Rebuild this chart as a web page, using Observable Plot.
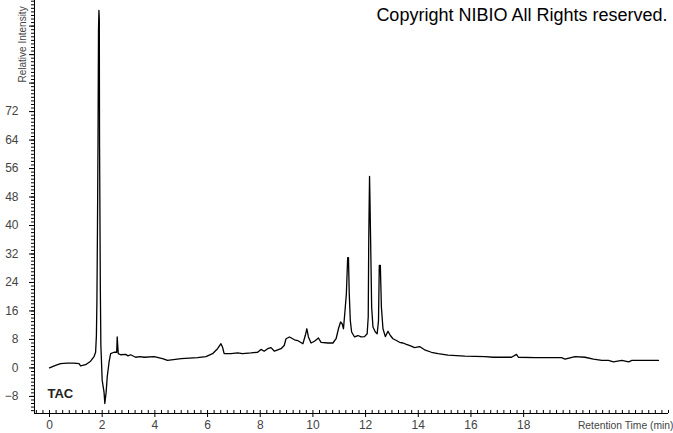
<!DOCTYPE html>
<html>
<head>
<meta charset="utf-8">
<script src="https://cdn.jsdelivr.net/npm/d3@7"></script>
<script src="https://cdn.jsdelivr.net/npm/@observablehq/plot@0.6"></script>
<style>
  html, body { margin: 0; padding: 0; background: #fff; }
  #chart { width: 673px; height: 433px; overflow: hidden; }
</style>
</head>
<body>
<div id="chart"></div>
<script>
// Retention time (min)
const times = [
  0, 0.23, 0.42, 0.67, 0.93, 1.12, 1.18, 1.37, 1.56, 1.69, 1.75, 1.78, 1.80, 1.82, 1.84, 1.86, 1.876, 1.89, 1.90, 1.93, 1.95,
  2.00, 2.07, 2.10, 2.15, 2.19, 2.26, 2.32, 2.45, 2.55, 2.57, 2.61, 2.70, 2.89, 2.98, 3.08, 3.27, 3.44, 3.59, 3.97,
  4.29, 4.48, 5.0, 5.62, 5.94, 6.19, 6.38, 6.51, 6.57, 6.63, 6.89, 7.14, 7.33, 7.65, 7.90, 8.03, 8.15, 8.28, 8.41,
  8.54, 8.79, 8.91, 8.98, 9.11, 9.30, 9.42, 9.62, 9.71, 9.77, 9.83, 9.93, 10.06, 10.21, 10.31, 10.57, 10.76, 10.88,
  10.97, 11.05, 11.11, 11.16, 11.22, 11.27, 11.32, 11.35, 11.38, 11.42, 11.47, 11.58, 11.71, 11.83, 11.96, 12.06,
  12.10, 12.12, 12.15, 12.16, 12.19, 12.23, 12.28, 12.37, 12.44, 12.49, 12.52, 12.56, 12.60, 12.66, 12.75, 12.85,
  12.94, 13.04, 13.17, 13.29, 13.42, 13.55, 13.71, 13.86, 14.05, 14.24, 14.50, 14.75, 15.13, 15.77, 16.53, 16.85,
  17.54, 17.73, 17.80, 18.43, 19.44, 19.57, 19.95, 20.33, 20.65, 20.97, 21.22, 21.41, 21.73, 21.99, 22.11, 23.12
];
// Relative intensity
const intensity = [
  0, 0.7, 1.2, 1.35, 1.35, 1.2, 0.6, 0.9, 1.9, 3.2, 4.4, 9, 19, 38.6, 62.5, 95, 100.4, 98, 62.5, 21.8, 6.3,
  -3.5, -6.8, -10.0, -6.8, -2.6, 1.6, 4.0, 4.4, 4.4, 8.7, 4.0, 3.7, 3.8, 3.4, 3.7, 3.0, 3.2, 3.0, 3.2,
  2.6, 2.1, 2.6, 2.9, 3.2, 4.0, 5.4, 6.8, 5.8, 4.0, 4.0, 4.2, 4.0, 4.2, 4.4, 5.2, 4.7, 5.4, 5.7,
  4.7, 5.4, 6.3, 8.2, 8.7, 7.9, 7.7, 6.8, 9.1, 11.0, 8.7, 7.0, 7.5, 8.4, 7.2, 7.0, 7.0, 8.2,
  11.0, 12.9, 12.4, 11.0, 16.2, 20.8, 31.0, 31.0, 20.8, 13.3, 10.1, 8.7, 9.1, 8.7, 8.8, 9.6,
  14.3, 36.3, 53.8, 50, 36.3, 17.1, 11.5, 10.1, 9.6, 13.3, 28.8, 28.8, 17.1, 11.0, 8.8, 10.3,
  9.1, 8.2, 7.7, 7.2, 7.0, 6.6, 6.2, 5.7, 6.0, 5.1, 4.4, 4.0, 3.6, 3.3, 3.2, 3.0,
  3.0, 3.8, 3.0, 2.9, 2.9, 2.5, 3.2, 3.0, 2.5, 2.1, 2.1, 1.7, 2.1, 1.7, 2.1, 2.1
];
// Axis ticks
const xLabelTicks = [0, 2, 4, 6, 8, 10, 12, 14, 16, 18];
const xMinorTicks = d3.range(-0.5, 23.51, 0.25);
const yLabelTicks = [-8, 0, 8, 16, 24, 32, 40, 48, 56, 64, 72];
const yMajorTicks = d3.range(-8, 100, 8);
const yMinorTicks = d3.range(-12, 104, 1);
const xDomain = [-0.57, 23.5];
const yDomain = [-12.8, 103.2];

const titleText = "Copyright NIBIO All Rights reserved.";
const traceLabel = "TAC";
const xLabel = "Retention Time (min)";
const yLabel = "Relative Intensity";

const data = times.map((t, i) => ({t, v: intensity[i]}));
const font = "'Liberation Sans', Arial, sans-serif";
const gray = "#444";

const chart = Plot.plot({
  width: 673,
  height: 433,
  marginLeft: 34,
  marginRight: 5,
  marginTop: 0,
  marginBottom: 20,
  style: {fontFamily: font, background: "#fff", overflow: "hidden"},
  x: {domain: xDomain},
  y: {domain: yDomain},
  marks: [
    // x axis: inner minor ticks, outer major ticks with labels
    Plot.axisX({ticks: xMinorTicks, tickSize: 3, dy: -3, tickFormat: () => "", stroke: "#000", label: null}),
    Plot.axisX({ticks: xLabelTicks, tickSize: 4, tickPadding: 3, tickFormat: d3.format("d"), stroke: "#000", fill: gray, fontSize: 12, label: null}),
    // y axis
    Plot.axisY({ticks: yMinorTicks, tickSize: 3, tickFormat: () => "", stroke: "#000", label: null}),
    Plot.axisY({ticks: yMajorTicks, tickSize: 5, tickFormat: () => "", stroke: "#000", label: null}),
    Plot.axisY({ticks: yLabelTicks, tickSize: 0, tickPadding: 16, tickFormat: d3.format("d"), fill: gray, fontSize: 12, label: null}),
    Plot.ruleX([xDomain[0]], {stroke: "#000"}),
    Plot.ruleY([yDomain[0]], {stroke: "#000"}),
    Plot.line(data, {x: "t", y: "v", stroke: "#000", strokeWidth: 1.3}),
    Plot.text([titleText], {frameAnchor: "top-right", dx: -1, dy: 8, fontSize: 18, fill: "#000", text: d => d}),
    Plot.text([traceLabel], {frameAnchor: "bottom-left", dx: 13, dy: -16, fontSize: 13, fontWeight: "bold", fill: "#222", text: d => d}),
    Plot.text([xLabel], {frameAnchor: "bottom-right", textAnchor: "end", dx: 5, dy: 15, fontSize: 10.3, fill: gray, text: d => d}),
    Plot.text([yLabel], {frameAnchor: "top-left", textAnchor: "start", rotate: -90, dx: -16, dy: 82, fontSize: 10, fill: gray, text: d => d})
  ]
});
document.getElementById("chart").appendChild(chart);
</script>
</body>
</html>
